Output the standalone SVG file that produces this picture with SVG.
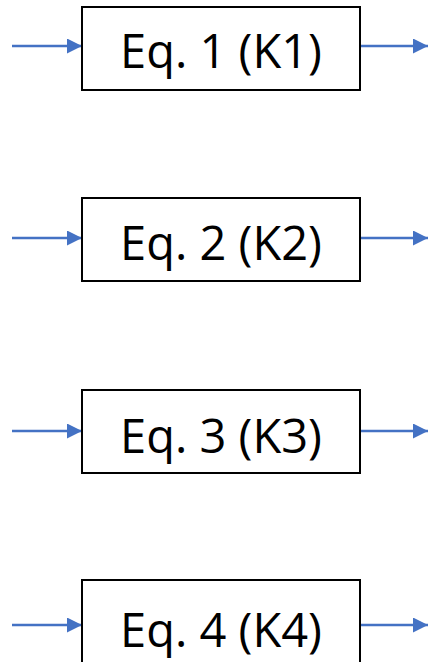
<svg xmlns="http://www.w3.org/2000/svg" width="428" height="662" viewBox="0 0 428 662">
  <style>
    .box { fill: #ffffff; stroke: #000000; stroke-width: 2; }
    .label { font-family: "Open Sans", "Liberation Sans", sans-serif; font-size: 47px; fill: #000000; text-anchor: middle; }
    .wire { stroke: #4472C4; stroke-width: 2.5; fill: none; marker-end: url(#arrow); }
  </style>
  <defs>
    <marker id="arrow" markerUnits="userSpaceOnUse" markerWidth="16" markerHeight="16" refX="15" refY="7.5" orient="auto">
      <path d="M0,0 L15,7.5 L0,15 Z" fill="#4472C4"/>
    </marker>
  </defs>
  <rect width="428" height="662" fill="#ffffff"/>

  <g id="connectors">
    <line class="wire" x1="12" y1="46" x2="82" y2="46"/>
    <line class="wire" x1="360" y1="46" x2="428" y2="46"/>
    <line class="wire" x1="12" y1="238" x2="82" y2="238"/>
    <line class="wire" x1="360" y1="238" x2="428" y2="238"/>
    <line class="wire" x1="12" y1="431" x2="82" y2="431"/>
    <line class="wire" x1="360" y1="431" x2="428" y2="431"/>
    <line class="wire" x1="12" y1="625" x2="82" y2="625"/>
    <line class="wire" x1="360" y1="625" x2="428" y2="625"/>
  </g>

  <g id="eq1">
    <rect class="box" x="82" y="7" width="278" height="83"/>
    <text class="label" x="221" y="68">Eq. 1 (K1)</text>
  </g>
  <g id="eq2">
    <rect class="box" x="82" y="198" width="278" height="83"/>
    <text class="label" x="221" y="260">Eq. 2 (K2)</text>
  </g>
  <g id="eq3">
    <rect class="box" x="82" y="390" width="278" height="83"/>
    <text class="label" x="221" y="453">Eq. 3 (K3)</text>
  </g>
  <g id="eq4">
    <rect class="box" x="82" y="580" width="278" height="83"/>
    <text class="label" x="221" y="647">Eq. 4 (K4)</text>
  </g>
</svg>
